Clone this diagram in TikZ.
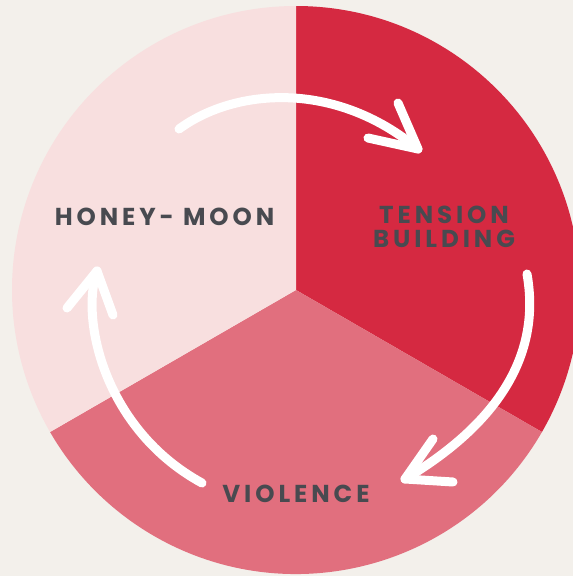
\documentclass[tikz,border=0pt]{standalone}
\usepackage{fontspec}
\newfontfamily\labfont[LetterSpace=16]{Poppins}
\definecolor{bg}{RGB}{243,240,235}
\definecolor{darkred}{RGB}{213,41,65}
\definecolor{midpink}{RGB}{225,111,126}
\definecolor{lightpink}{RGB}{248,223,223}
\definecolor{txt}{RGB}{72,74,80}
\tikzset{
  label text/.style={text=txt, font=\labfont\bfseries\fontsize{24.5}{24}\selectfont, align=center, inner sep=0pt},
  cyclearrow/.style={draw=white, line width=9pt, line cap=round, line join=round}
}
\begin{document}
\begin{tikzpicture}[x=1pt,y=1pt]
\useasboundingbox (0,0) rectangle (573,-576);
\fill[bg] (0,0) rectangle (573,-576);
\begin{scope}
\clip (0,0) rectangle (573,-576);
\coordinate (c) at (296,-290);
\fill[darkred] (c) -- ++(90:284) arc[start angle=90, end angle=-30, radius=284] -- cycle;
\fill[midpink] (c) -- ++(-30:284) arc[start angle=-30, end angle=-150, radius=284] -- cycle;
\fill[lightpink] (c) -- ++(90:284) arc[start angle=90, end angle=210, radius=284] -- cycle;
\end{scope}
% labels
\node[label text] (honey) at (164.5,-216.5) {HONEY- MOON};
\node[label text] (tension) at (444,-227) {TENSION\\BUILDING};
\node[label text] (violence) at (296,-494) {VIOLENCE};
% arrows
\coordinate (a1s) at (179,-129);
\coordinate (a1t) at (418,-149);
\coordinate (a1h1) at (398,-103);
\coordinate (a1h2) at (368,-138);
\draw[cyclearrow] (a1s) .. controls (235,-88) and (335,-80) .. (a1t);
\draw[cyclearrow] (a1h1) -- (a1t) -- (a1h2);
\coordinate (a2s) at (527,-274);
\coordinate (a2t) at (405,-479);
\coordinate (a2h1) at (433,-439);
\coordinate (a2h2) at (453,-482);
\draw[cyclearrow] (a2s) .. controls (545,-375) and (470,-440) .. (a2t);
\draw[cyclearrow] (a2h1) -- (a2t) -- (a2h2);
\coordinate (a3s) at (202,-483);
\coordinate (a3t) at (97,-271);
\coordinate (a3h1) at (67,-308);
\coordinate (a3h2) at (113,-315);
\draw[cyclearrow] (a3s) .. controls (105,-430) and (80,-320) .. (a3t);
\draw[cyclearrow] (a3h1) -- (a3t) -- (a3h2);
\end{tikzpicture}
\end{document}
